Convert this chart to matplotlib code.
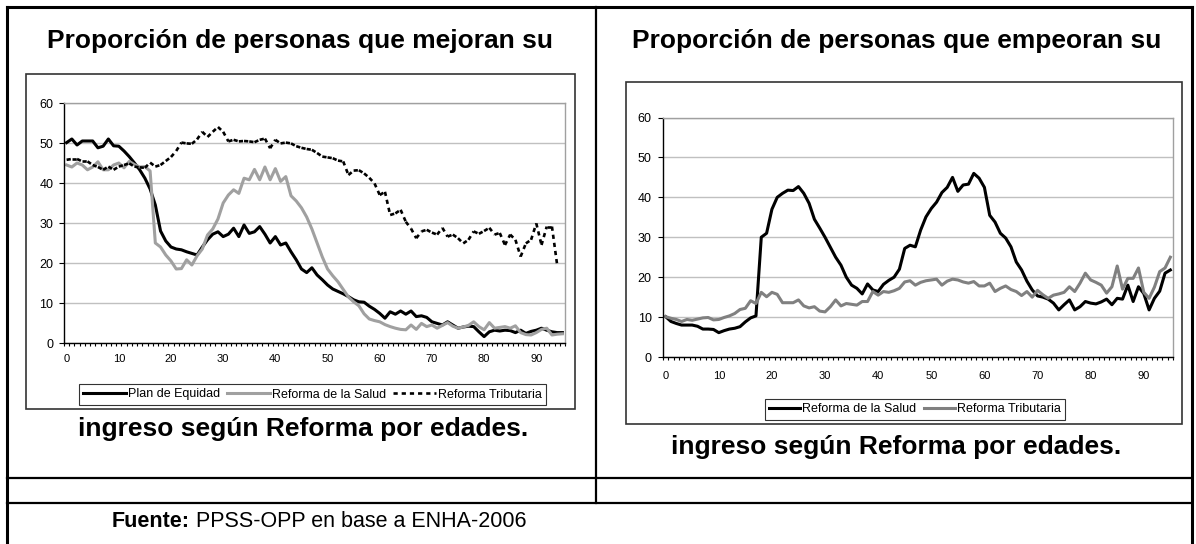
import numpy as np
import matplotlib.pyplot as plt
from matplotlib.patches import Rectangle

plt.rcParams['font.family'] = ['Liberation Sans', 'DejaVu Sans']

# edades 0..95 (eje de categorias)
edades = np.arange(96)
etiquetas_x = list(range(0, 91, 10))

# Proporcion de personas que mejoran su ingreso
plan_equidad = [
    50.1, 51.0, 49.5, 50.5, 50.5, 50.5, 48.8, 49.2, 51.0, 49.3,
    49.2, 48.0, 46.6, 45.0, 43.3, 41.2, 38.5, 34.5, 28.0, 25.5,
    24.0, 23.5, 23.3, 22.8, 22.4, 22.0, 24.0, 25.8, 27.2, 27.8,
    26.6, 27.2, 28.7, 26.6, 29.5, 27.4, 27.8, 29.1, 27.2, 25.0,
    26.6, 24.5, 25.0, 22.8, 20.8, 18.5, 17.6, 18.8, 17.0, 15.8,
    14.5, 13.5, 12.9, 12.3, 11.6, 10.8, 10.3, 10.2, 9.2, 8.4,
    7.4, 6.2, 7.8, 7.2, 8.0, 7.2, 8.0, 6.6, 6.8, 6.4,
    5.3, 4.9, 4.5, 5.3, 4.5, 3.7, 4.0, 4.2, 4.1, 2.8,
    1.6, 2.8, 3.2, 3.0, 3.2, 3.1, 2.6, 3.2, 2.4, 2.9,
    3.2, 3.7, 3.2, 2.8, 2.6, 2.6,
]
salud_mejora = [
    44.5, 44.0, 45.0, 44.5, 43.3, 44.0, 45.3, 43.3, 43.3, 44.5,
    45.0, 43.8, 45.4, 44.6, 44.0, 44.1, 43.0, 25.0, 24.0, 22.0,
    20.5, 18.5, 18.6, 20.8, 19.5, 21.8, 23.5, 27.0, 28.5, 31.0,
    35.0, 37.0, 38.3, 37.4, 41.2, 40.8, 43.4, 40.8, 44.0, 40.8,
    43.6, 40.4, 41.6, 36.8, 35.5, 33.8, 31.5, 28.5, 25.0, 21.5,
    18.5, 16.8, 15.3, 13.4, 11.5, 10.3, 9.3, 7.3, 6.0, 5.6,
    5.3, 4.6, 4.1, 3.7, 3.4, 3.3, 4.5, 3.4, 4.9, 4.1,
    4.5, 3.7, 4.4, 5.1, 4.2, 3.7, 4.0, 4.4, 5.3, 4.1,
    3.3, 5.1, 3.7, 3.9, 4.1, 3.7, 4.3, 2.6, 2.1, 2.0,
    2.6, 3.4, 3.7, 2.0, 2.2, 2.3,
]
tributaria_mejora = [
    45.8, 46.0, 46.0, 45.4, 45.4, 44.5, 44.0, 43.3, 44.1, 43.3,
    44.1, 44.5, 44.9, 44.1, 43.9, 43.8, 45.1, 44.1, 44.5, 45.5,
    46.5, 48.0, 50.1, 49.9, 49.8, 50.9, 52.8, 51.5, 52.8, 54.0,
    52.8, 50.4, 50.8, 50.4, 50.5, 50.4, 50.2, 50.8, 51.1, 48.7,
    50.8, 49.9, 50.1, 49.9, 49.2, 48.8, 48.5, 48.3, 47.5, 46.6,
    46.4, 46.2, 45.6, 45.4, 42.0, 43.1, 43.2, 42.4, 41.3, 39.9,
    37.0, 37.8, 32.0, 32.4, 33.3, 30.3, 28.6, 26.2, 27.9, 28.3,
    27.6, 27.1, 28.8, 26.6, 27.1, 26.2, 24.9, 25.8, 27.9, 27.3,
    28.0, 28.8, 27.1, 27.5, 24.5, 27.1, 25.8, 21.6, 24.9, 25.8,
    29.9, 24.5, 29.1, 29.1, 19.5, np.nan,
]

# Proporcion de personas que empeoran su ingreso
salud_empeora = [
    10.1, 8.9, 8.4, 8.0, 8.0, 8.0, 7.7, 7.0, 7.0, 6.9,
    6.1, 6.6, 7.0, 7.2, 7.6, 8.8, 9.8, 10.3, 30.0, 31.0,
    37.0, 40.0, 41.0, 41.8, 41.7, 42.7, 41.0, 38.5, 34.5, 32.3,
    30.0, 27.5, 25.0, 23.0, 20.0, 18.0, 17.2, 15.8, 18.3, 16.8,
    16.4, 18.2, 19.2, 20.0, 22.0, 27.2, 28.0, 27.6, 31.8, 35.1,
    37.2, 38.8, 41.2, 42.5, 45.0, 41.5, 43.1, 43.3, 46.0, 44.8,
    42.5, 35.5, 33.8, 31.0, 29.8, 27.6, 23.8, 21.8, 19.0, 16.8,
    15.3, 15.0, 14.5, 13.5, 11.8, 13.1, 14.3, 11.8, 12.6, 13.9,
    13.5, 13.3, 13.8, 14.5, 13.1, 14.7, 14.5, 18.0, 13.9, 17.6,
    15.9, 11.8, 14.7, 16.5, 21.0, 21.8,
]
tributaria_empeora = [
    10.1, 9.7, 9.4, 8.9, 9.4, 9.2, 9.5, 9.8, 9.9, 9.3,
    9.4, 9.9, 10.3, 10.9, 11.9, 12.2, 14.1, 13.4, 16.2, 15.1,
    16.2, 15.7, 13.6, 13.6, 13.6, 14.3, 12.8, 12.3, 12.6, 11.5,
    11.3, 12.6, 14.3, 12.8, 13.4, 13.2, 13.0, 13.9, 13.9, 16.4,
    15.5, 16.4, 16.2, 16.6, 17.2, 18.8, 19.1, 18.0, 18.7, 19.1,
    19.3, 19.5, 18.0, 19.0, 19.5, 19.3, 18.8, 18.5, 18.9, 17.8,
    17.8, 18.5, 16.4, 17.2, 17.8, 16.9, 16.4, 15.4, 16.4, 15.0,
    16.7, 15.6, 14.7, 15.5, 15.8, 16.2, 17.6, 16.4, 18.5, 21.0,
    19.3, 18.7, 18.0, 16.0, 17.6, 22.8, 17.0, 19.7, 19.7, 22.3,
    16.2, 14.7, 17.5, 21.4, 22.3, 25.0,
]

W, H = 1196, 544
fig = plt.figure(figsize=(W / 100, H / 100), dpi=100)

# capa de fondo en pixeles (tabla, recuadros, textos)
bg = fig.add_axes([0, 0, 1, 1], zorder=0)
bg.set_xlim(0, W)
bg.set_ylim(H, 0)
bg.axis('off')


def px_axes(x0, y0, x1, y1):
    return fig.add_axes([x0 / W, 1 - y1 / H, (x1 - x0) / W, (y1 - y0) / H], zorder=2)


def style_axes(ax, xpad, ypad):
    ax.set_xlim(-0.5, 95.5)
    ax.set_ylim(0, 60)
    ax.set_yticks(range(0, 61, 10))
    ax.set_xticks(etiquetas_x)
    ax.set_xticks(np.arange(-0.5, 96, 1), minor=True)
    ax.tick_params(axis='x', which='major', length=0, labelsize=8, pad=xpad)
    ax.tick_params(axis='x', which='minor', length=2.5, width=0.8, direction='out')
    ax.tick_params(axis='y', length=3.6, width=0.8, labelsize=9, pad=ypad)
    ax.grid(axis='y', color='#c0c0c0', lw=1)
    ax.set_axisbelow(True)
    for s in ['left', 'bottom']:
        ax.spines[s].set_color('black')
        ax.spines[s].set_linewidth(1)
    for s in ['top', 'right']:
        ax.spines[s].set_color('#a0a0a0')
        ax.spines[s].set_linewidth(1)
    ax.patch.set_alpha(0)


def dashed(ax, x, y, label):
    # el patron de guiones se reinicia en cada tramo, como en Excel
    for k in range(len(x) - 1):
        ax.plot(x[k:k + 2], y[k:k + 2], color='black', lw=1.9,
                dashes=(1.6, 1.5), label=label if k == 0 else None)


# recuadros de los graficos
bg.add_patch(Rectangle((26, 74), 575 - 26, 409 - 74, fill=False, ec='#333333', lw=1.2))
bg.add_patch(Rectangle((626, 82), 1182 - 626, 424 - 82, fill=False, ec='#333333', lw=1.2))

# lineas de la tabla
bg.plot([7, 1192], [7, 7], color='black', lw=2.2)
bg.plot([7, 7], [7, 544], color='black', lw=2.2)
bg.plot([1192, 1192], [7, 544], color='black', lw=2.2)
bg.plot([596, 596], [7, 503], color='black', lw=1.6)
bg.plot([7, 1192], [478, 478], color='black', lw=1.6)
bg.plot([7, 1192], [503, 503], color='black', lw=1.6)

# textos
bg.text(300, 48, 'Proporción de personas que mejoran su', ha='center', va='baseline',
        fontsize=19, fontweight='bold')
bg.text(897, 48, 'Proporción de personas que empeoran su', ha='center', va='baseline',
        fontsize=19, fontweight='bold')
bg.text(303, 436, 'ingreso según Reforma por edades.', ha='center', va='baseline',
        fontsize=19, fontweight='bold')
bg.text(896, 454, 'ingreso según Reforma por edades.', ha='center', va='baseline',
        fontsize=19, fontweight='bold')
t1 = bg.text(112, 527, 'Fuente:', ha='left', va='baseline', fontsize=15.5, fontweight='bold')
bg.annotate(' PPSS-OPP en base a ENHA-2006', xy=(1, 0), xycoords=t1,
            ha='left', va='bottom', fontsize=15.5)

# grafico izquierdo
axL = px_axes(64, 103, 565, 343)
style_axes(axL, 8, 4)
axL.plot(edades, plan_equidad, color='black', lw=2.2, label='Plan de Equidad',
         solid_joinstyle='round')
axL.plot(edades, salud_mejora, color='#a0a0a0', lw=2.2, label='Reforma de la Salud',
         solid_joinstyle='round')
dashed(axL, edades, tributaria_mejora, 'Reforma Tributaria')
legL = axL.legend(ncol=3, loc='center', bbox_to_anchor=(312.5 / W, 1 - 394.5 / H),
                  bbox_transform=fig.transFigure, frameon=True, fancybox=False,
                  edgecolor='black', fontsize=9, handlelength=3.4, handletextpad=0.15,
                  columnspacing=0.6, borderpad=0.35, borderaxespad=0)
legL.get_frame().set_linewidth(0.8)

# grafico derecho
axR = px_axes(663, 117.5, 1173, 357)
style_axes(axR, 10, 4.5)
axR.plot(edades, salud_empeora, color='black', lw=2.2, label='Reforma de la Salud',
         solid_joinstyle='round')
axR.plot(edades, tributaria_empeora, color='#808080', lw=2.2, label='Reforma Tributaria',
         solid_joinstyle='round')
legR = axR.legend(ncol=2, loc='center', bbox_to_anchor=(915 / W, 1 - 409.5 / H),
                  bbox_transform=fig.transFigure, frameon=True, fancybox=False,
                  edgecolor='black', fontsize=9, handlelength=2.5, handletextpad=0.15,
                  columnspacing=0.6, borderpad=0.35, borderaxespad=0)
legR.get_frame().set_linewidth(0.8)

fig.savefig('out.png', dpi=100, facecolor='white')
